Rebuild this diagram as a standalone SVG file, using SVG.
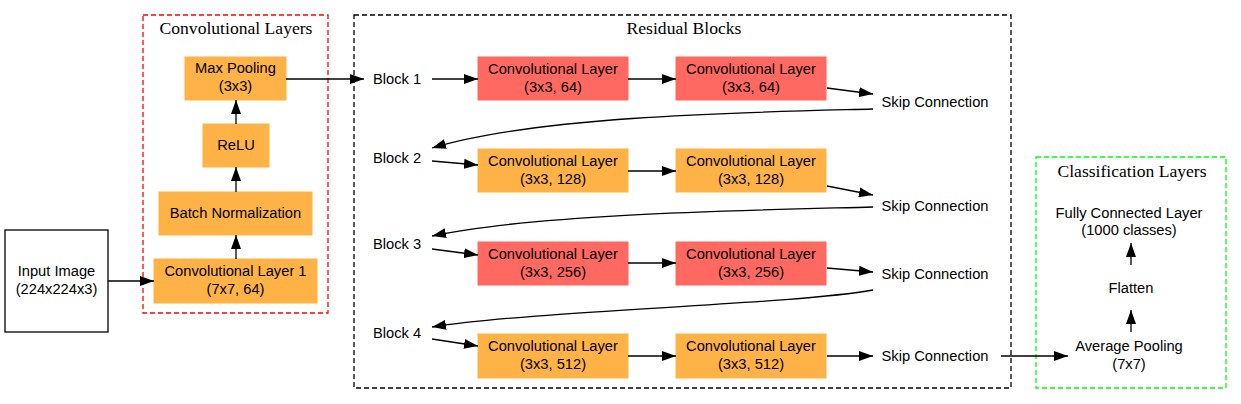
<svg xmlns="http://www.w3.org/2000/svg" width="1241" height="404" viewBox="0 0 1241 404">
<style>
  .t { font-family: "Liberation Sans", Arial, sans-serif; font-size: 14.7px; fill: #000; text-anchor: middle; }
  .title { font-family: "Liberation Serif", "Times New Roman", serif; font-size: 17.6px; fill: #000; text-anchor: middle; }
  .red { fill: #ff6961; stroke: #ff6961; }
  .org { fill: #ffb347; stroke: #ffb347; }
  .edge { fill: none; stroke: #000; stroke-width: 1.3; }
  .cluster { fill: none; stroke-width: 1.3; stroke-dasharray: 5,3; }
</style>
<defs>
  <marker id="ah" markerUnits="userSpaceOnUse" markerWidth="14" markerHeight="10" refX="14" refY="5" orient="auto">
    <path d="M0,0 L14,5 L0,10 z" fill="#000"/>
  </marker>
</defs>
<rect x="0" y="0" width="1241" height="404" fill="#fff"/>

<g id="cluster-conv">
  <rect class="cluster" x="143" y="15" width="185" height="298" stroke="#ff0000"/>
  <text class="title" x="236" y="34">Convolutional Layers</text>
</g>
<g id="cluster-res">
  <rect class="cluster" x="354" y="15" width="657" height="373" stroke="#000"/>
  <text class="title" x="684" y="34">Residual Blocks</text>
</g>
<g id="cluster-cls">
  <rect class="cluster" x="1036" y="157" width="190" height="231" stroke="#00ff00"/>
  <text class="title" x="1132" y="177">Classification Layers</text>
</g>

<g id="input">
  <rect x="5" y="230" width="103" height="102" fill="#fff" stroke="#000" stroke-width="1.3"/>
  <text class="t" x="56.5" y="276">Input Image</text>
  <text class="t" x="56.5" y="294">(224x224x3)</text>
</g>
<g id="conv1">
  <rect class="org" x="154" y="259" width="163" height="44"/>
  <text class="t" x="235.5" y="276">Convolutional Layer 1</text>
  <text class="t" x="235.5" y="294">(7x7, 64)</text>
</g>
<g id="bn">
  <rect class="org" x="159" y="192" width="153" height="43"/>
  <text class="t" x="235.5" y="218">Batch Normalization</text>
</g>
<g id="relu">
  <rect class="org" x="203" y="124" width="66" height="43"/>
  <text class="t" x="236" y="150">ReLU</text>
</g>
<g id="maxpool">
  <rect class="org" x="185" y="57" width="101" height="43"/>
  <text class="t" x="235.5" y="73">Max Pooling</text>
  <text class="t" x="235.5" y="91">(3x3)</text>
</g>

<g id="block1"><text class="t" x="397" y="84">Block 1</text></g>
<g id="block2"><text class="t" x="397" y="163">Block 2</text></g>
<g id="block3"><text class="t" x="397" y="249">Block 3</text></g>
<g id="block4"><text class="t" x="397" y="338">Block 4</text></g>

<g id="b1c1">
  <rect class="red" x="478" y="57" width="150" height="43"/>
  <text class="t" x="553" y="74">Convolutional Layer</text>
  <text class="t" x="553" y="92">(3x3, 64)</text>
</g>
<g id="b1c2">
  <rect class="red" x="676" y="57" width="150" height="43"/>
  <text class="t" x="751" y="74">Convolutional Layer</text>
  <text class="t" x="751" y="92">(3x3, 64)</text>
</g>
<g id="b2c1">
  <rect class="org" x="478" y="149" width="150" height="43"/>
  <text class="t" x="553" y="166">Convolutional Layer</text>
  <text class="t" x="553" y="184">(3x3, 128)</text>
</g>
<g id="b2c2">
  <rect class="org" x="676" y="149" width="150" height="43"/>
  <text class="t" x="751" y="166">Convolutional Layer</text>
  <text class="t" x="751" y="184">(3x3, 128)</text>
</g>
<g id="b3c1">
  <rect class="red" x="478" y="242" width="150" height="43"/>
  <text class="t" x="553" y="259">Convolutional Layer</text>
  <text class="t" x="553" y="277">(3x3, 256)</text>
</g>
<g id="b3c2">
  <rect class="red" x="676" y="242" width="150" height="43"/>
  <text class="t" x="751" y="259">Convolutional Layer</text>
  <text class="t" x="751" y="277">(3x3, 256)</text>
</g>
<g id="b4c1">
  <rect class="org" x="478" y="334" width="150" height="44"/>
  <text class="t" x="553" y="351">Convolutional Layer</text>
  <text class="t" x="553" y="369">(3x3, 512)</text>
</g>
<g id="b4c2">
  <rect class="org" x="676" y="334" width="150" height="44"/>
  <text class="t" x="751" y="351">Convolutional Layer</text>
  <text class="t" x="751" y="369">(3x3, 512)</text>
</g>

<g id="skip1"><text class="t" x="935" y="107">Skip Connection</text></g>
<g id="skip2"><text class="t" x="935" y="211">Skip Connection</text></g>
<g id="skip3"><text class="t" x="935" y="279">Skip Connection</text></g>
<g id="skip4"><text class="t" x="935" y="361">Skip Connection</text></g>

<g id="fc">
  <text class="t" x="1129" y="218">Fully Connected Layer</text>
  <text class="t" x="1129" y="235">(1000 classes)</text>
</g>
<g id="flatten"><text class="t" x="1131" y="293">Flatten</text></g>
<g id="avgpool">
  <text class="t" x="1129" y="351">Average Pooling</text>
  <text class="t" x="1129" y="369">(7x7)</text>
</g>

<g id="connectors">
  <path class="edge" marker-end="url(#ah)" d="M108,281 L154,281"/>
  <path class="edge" marker-end="url(#ah)" d="M236,259 L236,235"/>
  <path class="edge" marker-end="url(#ah)" d="M236,192 L236,167"/>
  <path class="edge" marker-end="url(#ah)" d="M236,124 L236,100"/>
  <path class="edge" marker-end="url(#ah)" d="M286,79 L364,79"/>

  <path class="edge" marker-end="url(#ah)" d="M432,79 L478,79"/>
  <path class="edge" marker-end="url(#ah)" d="M628,79 L676,79"/>
  <path class="edge" marker-end="url(#ah)" d="M827,88 L873,94"/>
  <path class="edge" marker-end="url(#ah)" d="M873,109 C760,112 540,115 432,148"/>

  <path class="edge" marker-end="url(#ah)" d="M432,161 L478,165"/>
  <path class="edge" marker-end="url(#ah)" d="M628,171 L676,171"/>
  <path class="edge" marker-end="url(#ah)" d="M827,186 L873,195"/>
  <path class="edge" marker-end="url(#ah)" d="M873,207 C760,210 540,213 432,236"/>

  <path class="edge" marker-end="url(#ah)" d="M432,249 L478,255"/>
  <path class="edge" marker-end="url(#ah)" d="M628,263 L676,263"/>
  <path class="edge" marker-end="url(#ah)" d="M827,268 L873,272"/>
  <path class="edge" marker-end="url(#ah)" d="M873,290 C790,305 540,310 432,327"/>

  <path class="edge" marker-end="url(#ah)" d="M432,339 L478,346"/>
  <path class="edge" marker-end="url(#ah)" d="M628,356 L676,356"/>
  <path class="edge" marker-end="url(#ah)" d="M827,356 L873,356"/>
  <path class="edge" marker-end="url(#ah)" d="M1001,356 L1068,356"/>

  <path class="edge" marker-end="url(#ah)" d="M1131,332 L1131,310"/>
  <path class="edge" marker-end="url(#ah)" d="M1131,265 L1131,243"/>
</g>
</svg>
